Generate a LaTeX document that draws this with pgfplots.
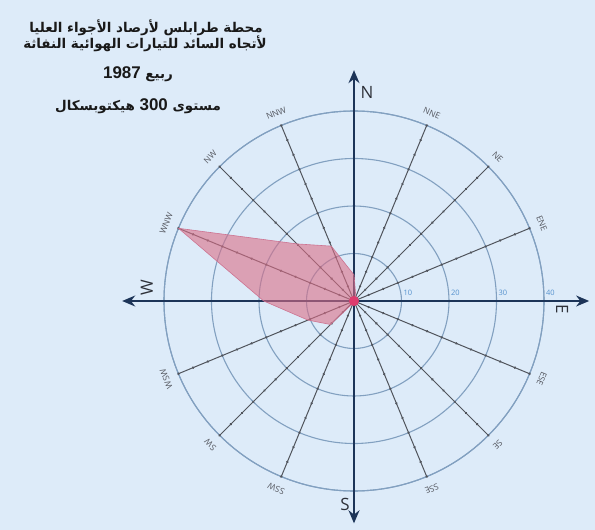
\documentclass[border=0pt]{standalone}
\usepackage{pgfplots}
\pgfplotsset{compat=1.18}
\usepgfplotslibrary{polar}
\usetikzlibrary{arrows.meta,decorations.markings}
\usepackage{fontspec}
\setmainfont{Open Sans}
\newfontfamily\arabicfont[Script=Arabic]{DejaVu Sans}
\newfontfamily\numfont{Liberation Sans}
\TeXXeTstate=1

\definecolor{bg}{RGB}{221,235,249}
\definecolor{ring}{RGB}{130,160,192}
\definecolor{spoke}{RGB}{80,84,92}
\definecolor{navy}{RGB}{28,52,88}
\definecolor{rosefill}{RGB}{218,110,135}
\definecolor{roseedge}{RGB}{205,115,145}
\definecolor{hub}{RGB}{222,60,110}
\definecolor{rlabel}{RGB}{85,145,205}
\definecolor{dlabel}{RGB}{85,88,96}
\definecolor{titlecol}{RGB}{25,25,25}
\definecolor{cardcol}{RGB}{45,48,56}

\begin{document}
\begin{tikzpicture}
\fill[bg] (0,0) rectangle (595bp,530bp);

% title block
\begin{scope}[every node/.style={text=titlecol, inner sep=0pt,
    font=\arabicfont\bfseries\fontsize{13.5}{15}\selectfont}]
\node at (146bp,502bp) {\beginR محطة طرابلس لأرصاد الأجواء العليا\endR};
\node at (145bp,486bp) {\beginR لأتجاه السائد للتيارات الهوائية النفاثة\endR};
\node at (138bp,456bp) {\beginR ربيع {\numfont\fontsize{17}{18}\selectfont 1987}\endR};
\node at (138bp,424bp) {\beginR مستوى {\numfont\fontsize{17}{18}\selectfont 300} هيكتوبسكال\endR};
\end{scope}

\begin{polaraxis}[
  at={(354bp,229bp)}, anchor=center,
  width=380bp, height=380bp, scale only axis,
  xmin=0, xmax=360, ymin=0, ymax=40,
  xtick=\empty, ytick={10,20,30,40}, yticklabels={},
  ymajorgrids, grid style={ring, line width=1.1bp},
  axis line style={ring, line width=1.1bp},
  major tick length=0pt,
  clip=false,
]
% intermediate compass spokes with dot ticks
\pgfplotsinvokeforeach{22.5,45,67.5,112.5,135,157.5,202.5,225,247.5,292.5,315,337.5}{
  \draw[spoke, line width=1bp, postaction={decorate},
    decoration={markings,
      mark=between positions 0.0833 and 0.99 step 0.08333 with {\fill[spoke] (0,0) circle (1.3bp);},
      mark=at position 1 with {\fill[spoke] (0,0) circle (1.4bp);}}]
    (axis cs:#1,0) -- (axis cs:#1,40);
}
% cardinal arrows
\draw[navy, line width=1.6bp, {Stealth[length=13bp,width=11bp]}-{Stealth[length=13bp,width=11bp]}]
  (axis cs:180,48.8) -- (axis cs:0,49.5);
\draw[navy, line width=1.6bp, {Stealth[length=13bp,width=11bp]}-{Stealth[length=13bp,width=11bp]}]
  (axis cs:270,46.8) -- (axis cs:90,48.6);

% prevailing direction frequencies
\addplot[draw=roseedge, fill=rosefill, fill opacity=0.6, line width=0.6bp] coordinates {
  (90,5.5) (67.5,1) (45,0.5) (22.5,0.3) (0,0.3) (337.5,0.3) (315,0.3) (292.5,0.3)
  (270,0.3) (247.5,0.5) (225,7) (202.5,10.5) (180,19) (157.5,40) (135,17) (112.5,12.5)
} -- cycle;
\addplot[only marks, mark=*, mark size=4.8bp, hub, mark options={draw=hub}] coordinates {(0,0)};

% ring values
\begin{scope}[every node/.style={text=rlabel, font=\fontsize{7.5}{8}\selectfont, anchor=west, inner sep=0pt}]
\node[xshift=2bp, yshift=8bp] at (axis cs:0,10) {10};
\node[xshift=2bp, yshift=8bp] at (axis cs:0,20) {20};
\node[xshift=2bp, yshift=8bp] at (axis cs:0,30) {30};
\node[xshift=2bp, yshift=8bp] at (axis cs:0,40) {40};
\end{scope}

% direction names
\begin{scope}[every node/.style={text=dlabel, font=\fontsize{8.5}{9}\selectfont, inner sep=0pt}]
\node[rotate=-22.5] at (axis cs:67.5,42.8) {NNE};
\node[rotate=-45] at (axis cs:45,42.8) {NE};
\node[rotate=-67.5] at (axis cs:22.5,42.8) {ENE};
\node[rotate=-112.5] at (axis cs:337.5,42.8) {ESE};
\node[rotate=-135] at (axis cs:315,42.8) {SE};
\node[rotate=-157.5] at (axis cs:292.5,42.8) {SSE};
\node[rotate=157.5] at (axis cs:247.5,42.8) {SSW};
\node[rotate=135] at (axis cs:225,42.8) {SW};
\node[rotate=112.5] at (axis cs:202.5,42.8) {WSW};
\node[rotate=67.5] at (axis cs:157.5,42.8) {WNW};
\node[rotate=45] at (axis cs:135,42.8) {NW};
\node[rotate=22.5] at (axis cs:112.5,42.8) {NNW};
\end{scope}

% cardinal letters
\begin{scope}[every node/.style={text=cardcol, font=\fontsize{17}{18}\selectfont, inner sep=0pt}]
\node[xshift=13bp] at (axis cs:90,43.8) {N};
\node[xshift=-9bp] at (axis cs:270,42.9) {S};
\node[rotate=-90] at ([yshift=-8bp]axis cs:0,43.8) {E};
\node[rotate=90] at ([yshift=13bp]axis cs:180,43.6) {W};
\end{scope}
\end{polaraxis}
\end{tikzpicture}
\end{document}
